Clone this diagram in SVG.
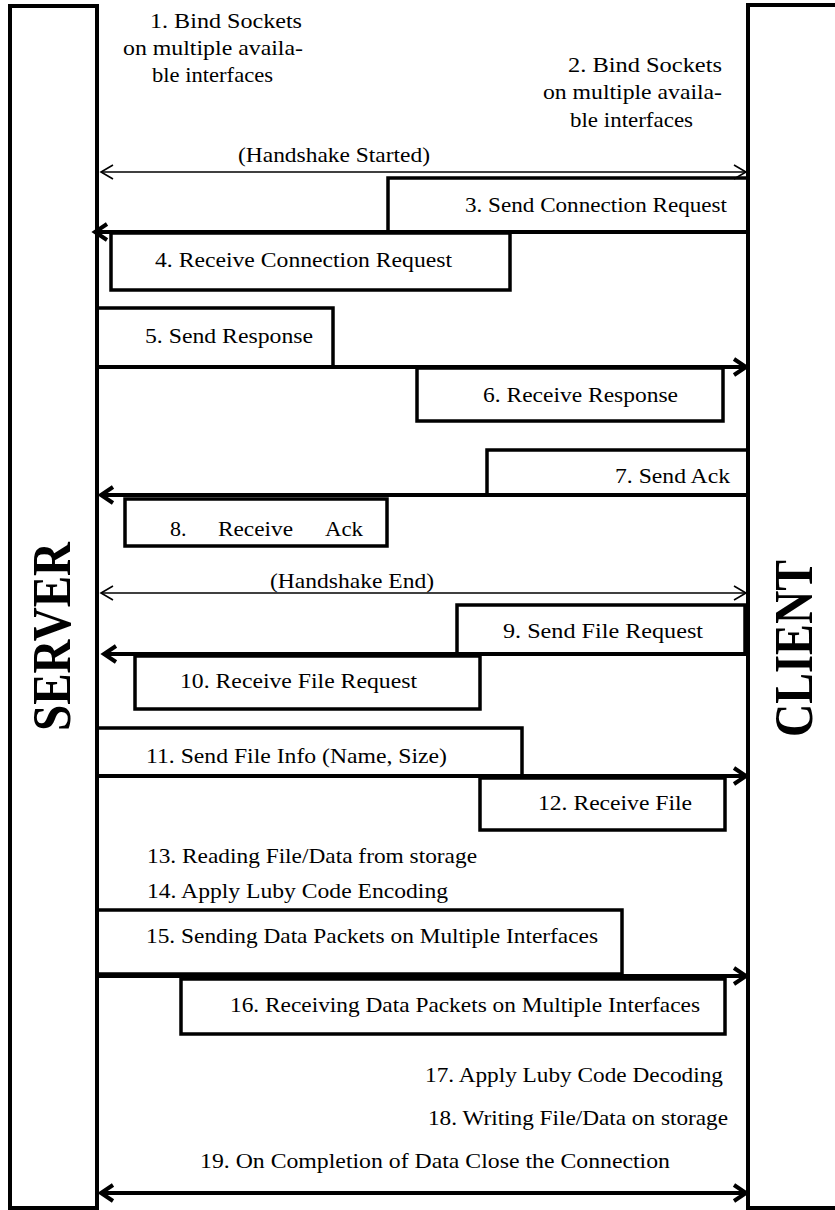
<svg xmlns="http://www.w3.org/2000/svg" width="835" height="1210" viewBox="0 0 835 1210">
  <style>
    .frame { fill: #ffffff; stroke: #000000; stroke-width: 4; }
    .box { fill: none; stroke: #000000; stroke-width: 3.5; }
    .lbl { font-family: "Liberation Serif", "Times New Roman", serif; font-size: 22px; fill: #000000; }
    .title { font-family: "Liberation Serif", "Times New Roman", serif; font-size: 54px; font-weight: bold; fill: #000000; }
    .msg { fill: none; stroke: #000000; stroke-width: 4; }
    .thin { fill: none; stroke: #000000; stroke-width: 1.5; }
  </style>
  <defs>
    <marker id="headBold" markerUnits="userSpaceOnUse" markerWidth="20" markerHeight="24" refX="15" refY="12" orient="auto-start-reverse" overflow="visible">
      <path d="M3,4 L15,12 L3,20" fill="none" stroke="#000000" stroke-width="4" stroke-linejoin="miter"/>
    </marker>
    <marker id="headThin" markerUnits="userSpaceOnUse" markerWidth="16" markerHeight="20" refX="13" refY="10" orient="auto-start-reverse" overflow="visible">
      <path d="M1,3 L13,10 L1,17" fill="none" stroke="#000000" stroke-width="1.6"/>
    </marker>
  </defs>
  <rect width="835" height="1210" fill="#ffffff"/>

  <!-- participants -->
  <g id="server">
    <rect class="frame" x="10" y="6" width="87" height="1202"/>
    <text class="title" transform="translate(70,731) rotate(-90)" textLength="189" lengthAdjust="spacingAndGlyphs">SERVER</text>
  </g>
  <g id="client">
    <rect class="frame" x="748" y="5" width="92" height="1203"/>
    <text class="title" transform="translate(812,737) rotate(-90)" textLength="177" lengthAdjust="spacingAndGlyphs">CLIENT</text>
  </g>

  <!-- setup notes -->
  <g id="step1">
    <text class="lbl" x="150" y="28" textLength="152" lengthAdjust="spacingAndGlyphs">1. Bind Sockets</text>
    <text class="lbl" x="123" y="55" textLength="180" lengthAdjust="spacingAndGlyphs">on multiple availa-</text>
    <text class="lbl" x="152" y="82" textLength="121" lengthAdjust="spacingAndGlyphs">ble interfaces</text>
  </g>
  <g id="step2">
    <text class="lbl" x="568" y="72" textLength="154" lengthAdjust="spacingAndGlyphs">2. Bind Sockets</text>
    <text class="lbl" x="543" y="99" textLength="179" lengthAdjust="spacingAndGlyphs">on multiple availa-</text>
    <text class="lbl" x="570" y="127" textLength="123" lengthAdjust="spacingAndGlyphs">ble interfaces</text>
  </g>

  <!-- message connectors -->
  <g id="connectors">
    <line class="thin" x1="101" y1="172" x2="746" y2="172" marker-start="url(#headThin)" marker-end="url(#headThin)"/>
    <line class="msg" x1="748" y1="232" x2="95" y2="232" marker-end="url(#headBold)"/>
    <line class="msg" x1="97" y1="367" x2="746" y2="367" marker-end="url(#headBold)"/>
    <line class="msg" x1="748" y1="495" x2="101" y2="495" marker-end="url(#headBold)"/>
    <line class="thin" x1="101" y1="593" x2="746" y2="593" marker-start="url(#headThin)" marker-end="url(#headThin)"/>
    <line class="msg" x1="748" y1="654" x2="104" y2="654" marker-end="url(#headBold)"/>
    <line class="msg" x1="97" y1="776" x2="746" y2="776" marker-end="url(#headBold)"/>
    <line class="msg" x1="97" y1="976" x2="746" y2="976" marker-end="url(#headBold)"/>
    <line class="msg" x1="101" y1="1193" x2="746" y2="1193" marker-start="url(#headBold)" marker-end="url(#headBold)"/>
  </g>

  <!-- handshake labels -->
  <g id="handshake-start">
    <text class="lbl" x="238" y="162" textLength="192" lengthAdjust="spacingAndGlyphs">(Handshake Started)</text>
  </g>
  <g id="handshake-end">
    <text class="lbl" x="270" y="588" textLength="164" lengthAdjust="spacingAndGlyphs">(Handshake End)</text>
  </g>

  <!-- step boxes -->
  <g id="step3">
    <path class="box" d="M748,178 H388 V232"/>
    <text class="lbl" x="465" y="212" textLength="262" lengthAdjust="spacingAndGlyphs">3. Send Connection Request</text>
  </g>
  <g id="step4">
    <rect class="box" x="111" y="233" width="399" height="57"/>
    <text class="lbl" x="155" y="267" textLength="297" lengthAdjust="spacingAndGlyphs">4. Receive Connection Request</text>
  </g>
  <g id="step5">
    <rect class="box" x="97" y="308" width="236" height="59"/>
    <text class="lbl" x="145" y="343" textLength="168" lengthAdjust="spacingAndGlyphs">5. Send Response</text>
  </g>
  <g id="step6">
    <rect class="box" x="417" y="368" width="306" height="53"/>
    <text class="lbl" x="483" y="402" textLength="195" lengthAdjust="spacingAndGlyphs">6. Receive Response</text>
  </g>
  <g id="step7">
    <path class="box" d="M748,450 H487 V495"/>
    <text class="lbl" x="615" y="483" textLength="115" lengthAdjust="spacingAndGlyphs">7. Send Ack</text>
  </g>
  <g id="step8">
    <rect class="box" x="125" y="499" width="262" height="47"/>
    <text class="lbl" y="536"><tspan x="170">8.</tspan><tspan x="218" textLength="75" lengthAdjust="spacingAndGlyphs">Receive</tspan><tspan x="325" textLength="38" lengthAdjust="spacingAndGlyphs">Ack</tspan></text>
  </g>
  <g id="step9">
    <rect class="box" x="457" y="605" width="288" height="49"/>
    <text class="lbl" x="503" y="638" textLength="200" lengthAdjust="spacingAndGlyphs">9. Send File Request</text>
  </g>
  <g id="step10">
    <rect class="box" x="135" y="656" width="345" height="53"/>
    <text class="lbl" x="180" y="688" textLength="237" lengthAdjust="spacingAndGlyphs">10. Receive File Request</text>
  </g>
  <g id="step11">
    <rect class="box" x="97" y="728" width="425" height="48"/>
    <text class="lbl" x="146" y="763" textLength="301" lengthAdjust="spacingAndGlyphs">11. Send File Info (Name, Size)</text>
  </g>
  <g id="step12">
    <rect class="box" x="480" y="778" width="245" height="52"/>
    <text class="lbl" x="538" y="810" textLength="154" lengthAdjust="spacingAndGlyphs">12. Receive File</text>
  </g>
  <g id="step13">
    <text class="lbl" x="147" y="863" textLength="330" lengthAdjust="spacingAndGlyphs">13. Reading File/Data from storage</text>
  </g>
  <g id="step14">
    <text class="lbl" x="147" y="898" textLength="301" lengthAdjust="spacingAndGlyphs">14. Apply Luby Code Encoding</text>
  </g>
  <g id="step15">
    <rect class="box" x="97" y="910" width="525" height="64"/>
    <text class="lbl" x="146" y="943" textLength="452" lengthAdjust="spacingAndGlyphs">15. Sending Data Packets on Multiple Interfaces</text>
  </g>
  <g id="step16">
    <rect class="box" x="181" y="979" width="544" height="55"/>
    <text class="lbl" x="230" y="1012" textLength="470" lengthAdjust="spacingAndGlyphs">16. Receiving Data Packets on Multiple Interfaces</text>
  </g>
  <g id="step17">
    <text class="lbl" x="425" y="1082" textLength="298" lengthAdjust="spacingAndGlyphs">17. Apply Luby Code Decoding</text>
  </g>
  <g id="step18">
    <text class="lbl" x="428" y="1125" textLength="300" lengthAdjust="spacingAndGlyphs">18. Writing File/Data on storage</text>
  </g>
  <g id="step19">
    <text class="lbl" x="200" y="1168" textLength="470" lengthAdjust="spacingAndGlyphs">19. On Completion of Data Close the Connection</text>
  </g>
</svg>
